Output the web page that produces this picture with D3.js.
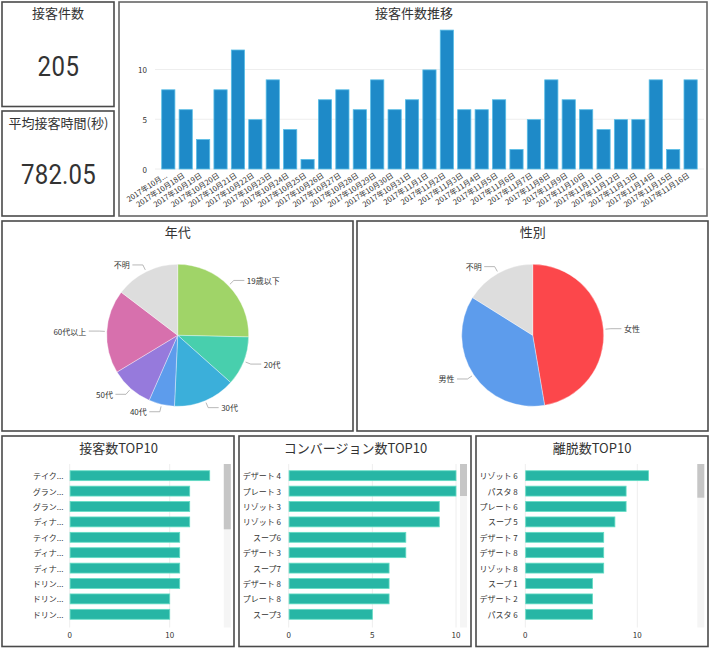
<!DOCTYPE html>
<html lang="ja">
<head>
<meta charset="utf-8">
<script src="https://cdn.jsdelivr.net/npm/d3@7/dist/d3.min.js"></script>
<style>
html,body{margin:0;padding:0;background:#fff}
svg{display:block}
text{font-family:"Noto Sans CJK JP","Noto Sans",sans-serif;fill:#333}
</style>
</head>
<body>
<svg id="c" width="710" height="650"></svg>
<script>
const kpiTitles = ["接客件数", "平均接客時間(秒)"];
const kpiValues = ["205", "782.05"];

const trendDates = ["2017年10月...","2017年10月18日","2017年10月19日","2017年10月20日","2017年10月21日","2017年10月22日","2017年10月23日","2017年10月24日","2017年10月25日","2017年10月26日","2017年10月27日","2017年10月28日","2017年10月29日","2017年10月30日","2017年10月31日","2017年11月1日","2017年11月2日","2017年11月3日","2017年11月4日","2017年11月5日","2017年11月6日","2017年11月7日","2017年11月8日","2017年11月9日","2017年11月10日","2017年11月11日","2017年11月12日","2017年11月13日","2017年11月14日","2017年11月15日","2017年11月16日"];
const trendValues = [8,6,3,8,12,5,9,4,1,7,8,6,9,6,7,10,14,6,6,7,2,5,9,7,6,4,5,5,9,2,9];
const trendTicks = [0,5,10];

const ageLabels = ["19歳以下","20代","30代","40代","50代","60代以上","不明"];
const ageValues = [52,23,29,12,20,39,30];
const ageColors = ["#a0d468","#48cfad","#3bafda","#5d9cec","#967adc","#d770ad","#dddddd"];

const genderLabels = ["女性","男性","不明"];
const genderValues = [97,75,33];
const genderColors = ["#fc474b","#5d9cec","#dddddd"];

const visitLabels = ["テイク...","グラン...","グラン...","ディナ...","テイク...","ディナ...","ディナ...","ドリン...","ドリン...","ドリン..."];
const visitValues = [14,12,12,12,11,11,11,11,10,10];
const convLabels = ["デザート 4","プレート 3","リゾット 3","リゾット 6","スープ6","デザート 3","スープ7","デザート 8","プレート 8","スープ3"];
const convValues = [10,10,9,9,7,7,6,6,6,5];
const exitLabels = ["リゾット 6","パスタ 8","プレート 6","スープ 5","デザート 7","デザート 8","リゾット 8","スープ 1","デザート 2","パスタ 6"];
const exitValues = [11,9,9,8,7,7,7,6,6,6];

const svg = d3.select("#c");

function panel(x0,y0,x1,y1,title,tx,ty,stroke){
  svg.append("rect").attr("x",x0).attr("y",y0).attr("width",x1-x0).attr("height",y1-y0)
    .attr("fill","#fff").attr("stroke",stroke||"#4a4a4a").attr("stroke-width",1.6);
  svg.append("text").attr("x",tx).attr("y",ty).attr("text-anchor","middle")
    .attr("dominant-baseline","central").attr("font-size",13).text(title);
}

/* KPI cards */
panel(2,2,114,106.5,kpiTitles[0],58,12.5);
panel(2,111,114,216,kpiTitles[1],58.5,122);
[[kpiValues[0],58.5,67,0.6],[kpiValues[1],58.5,175,0.2]].forEach(([v,x,y,ls])=>{
  svg.append("text").attr("transform",`translate(${x},${y}) scale(1,1.12)`)
    .attr("text-anchor","middle").attr("dominant-baseline","central")
    .style("font-family","Roboto").attr("font-size",24).attr("letter-spacing",ls).text(v);
});

/* trend bars */
panel(119,2,707,216,"接客件数推移",414,12.5,"#666");
const tx = d3.scaleBand().domain(trendDates.map((d,i)=>i)).range([159.6,699.3]).paddingInner(0.196).paddingOuter(0.098);
const ty = d3.scaleLinear().domain([0,10]).range([169,69.5]);
const tg = svg.append("g");
tg.selectAll("line.g").data(trendTicks).join("line")
  .attr("x1",155).attr("x2",704).attr("y1",d=>ty(d)).attr("y2",d=>ty(d))
  .attr("stroke","#eeeeee").attr("stroke-width",1);
tg.selectAll("text.y").data(trendTicks).join("text")
  .attr("x",147).attr("y",d=>ty(d)).attr("text-anchor","end").attr("dominant-baseline","central")
  .attr("font-size",8).text(d=>d);
tg.selectAll("rect").data(trendValues).join("rect")
  .attr("x",(d,i)=>tx(i)+0.4).attr("y",d=>ty(d)+0.4)
  .attr("width",tx.bandwidth()-0.8).attr("height",d=>ty(0)-ty(d)-0.4)
  .attr("fill","#1e8ac8").attr("stroke","#58bde6").attr("stroke-width",0.8);
tg.selectAll("text.x").data(trendDates).join("text")
  .attr("transform",(d,i)=>`translate(${tx(i)+tx.bandwidth()/2-0.5},177) rotate(-33)`)
  .attr("text-anchor","end").attr("font-size",7.5).text(d=>d);

/* pies */
function pie(x0,x1,title,labels,values,colors,cx,cy){
  panel(x0,221,x1,431,title,cx,231.5);
  const r = 71;
  const arcs = d3.pie().sort(null)(values);
  const arc = d3.arc().innerRadius(0).outerRadius(r);
  const g = svg.append("g").attr("transform",`translate(${cx},${cy})`);
  g.selectAll("path.s").data(arcs).join("path").attr("d",arc)
    .attr("fill",(d,i)=>colors[i]).attr("stroke","#fff").attr("stroke-opacity",.6).attr("stroke-width",.6);
  arcs.forEach((a,i)=>{
    const m=(a.startAngle+a.endAngle)/2, s=Math.sin(m), c=-Math.cos(m);
    const dir = s>=0?1:-1;
    const ax=s*(r+2), ay=c*(r+2), ex=s*(r+7.5), ey=c*(r+7.5), hx=ex+dir*10.5;
    g.append("path").attr("d",d3.line()([[ax,ay],[ex,ey],[hx,ey]]))
      .attr("fill","none").attr("stroke","#999").attr("stroke-width",.7);
    g.append("text").attr("x",hx+dir*2.5).attr("y",ey).attr("text-anchor",dir>0?"start":"end")
      .attr("dominant-baseline","central").attr("font-size",8).text(labels[i]);
  });
}
pie(2,353,"年代",ageLabels,ageValues,ageColors,177.7,335.3);
pie(357,708,"性別",genderLabels,genderValues,genderColors,532.7,335.3);

/* top-10 bars */
function top10(x0,x1,title,labels,values,xd,xr,ticks,scrollX,thumbEnd,labelX,tcx){
  panel(x0,436,x1,646.5,title,tcx,447.5);
  const x = d3.scaleLinear().domain(xd).range(xr);
  const y = d3.scaleBand().domain(labels.map((d,i)=>i)).range([468,622]).paddingInner(0.305).paddingOuter(0.1525);
  const g = svg.append("g");
  g.append("rect").attr("x",scrollX).attr("y",464).attr("width",7).attr("height",163.5).attr("fill","#f5f5f5");
  g.append("rect").attr("x",scrollX).attr("y",464).attr("width",7).attr("height",thumbEnd-464).attr("fill","#c6c6c6");
  g.selectAll("line").data(ticks).join("line")
    .attr("x1",d=>x(d)).attr("x2",d=>x(d)).attr("y1",464).attr("y2",627.5)
    .attr("stroke","#eeeeee").attr("stroke-width",1);
  g.selectAll("rect.b").data(values).join("rect").attr("class","b")
    .attr("x",x(0)+0.4).attr("y",(d,i)=>y(i)+0.4)
    .attr("width",d=>x(d)-x(0)-0.4).attr("height",y.bandwidth()-0.8)
    .attr("fill","#27b6a5").attr("stroke","#62dcc4").attr("stroke-width",0.8);
  g.selectAll("text.y").data(labels).join("text").attr("class","y")
    .attr("x",labelX).attr("y",(d,i)=>y(i)+y.bandwidth()/2).attr("text-anchor","end")
    .attr("dominant-baseline","central").attr("font-size",8).text(d=>d);
  g.selectAll("text.x").data(ticks).join("text").attr("class","x")
    .attr("x",d=>x(d)).attr("y",634.5).attr("text-anchor","middle")
    .attr("dominant-baseline","central").attr("font-size",8).text(d=>d);
}
top10(2,234,"接客数TOP10",visitLabels,visitValues,[0,10],[69.7,169.7],[0,10],223.8,529.3,63.5,118.5);
top10(239,471,"コンバージョン数TOP10",convLabels,convValues,[0,10],[288.7,456],[0,5,10],460,496,281,355.5);
top10(476,708,"離脱数TOP10",exitLabels,exitValues,[0,10],[525.3,637.3],[0,10],697.3,497.7,517.7,592);
</script>
</body>
</html>
